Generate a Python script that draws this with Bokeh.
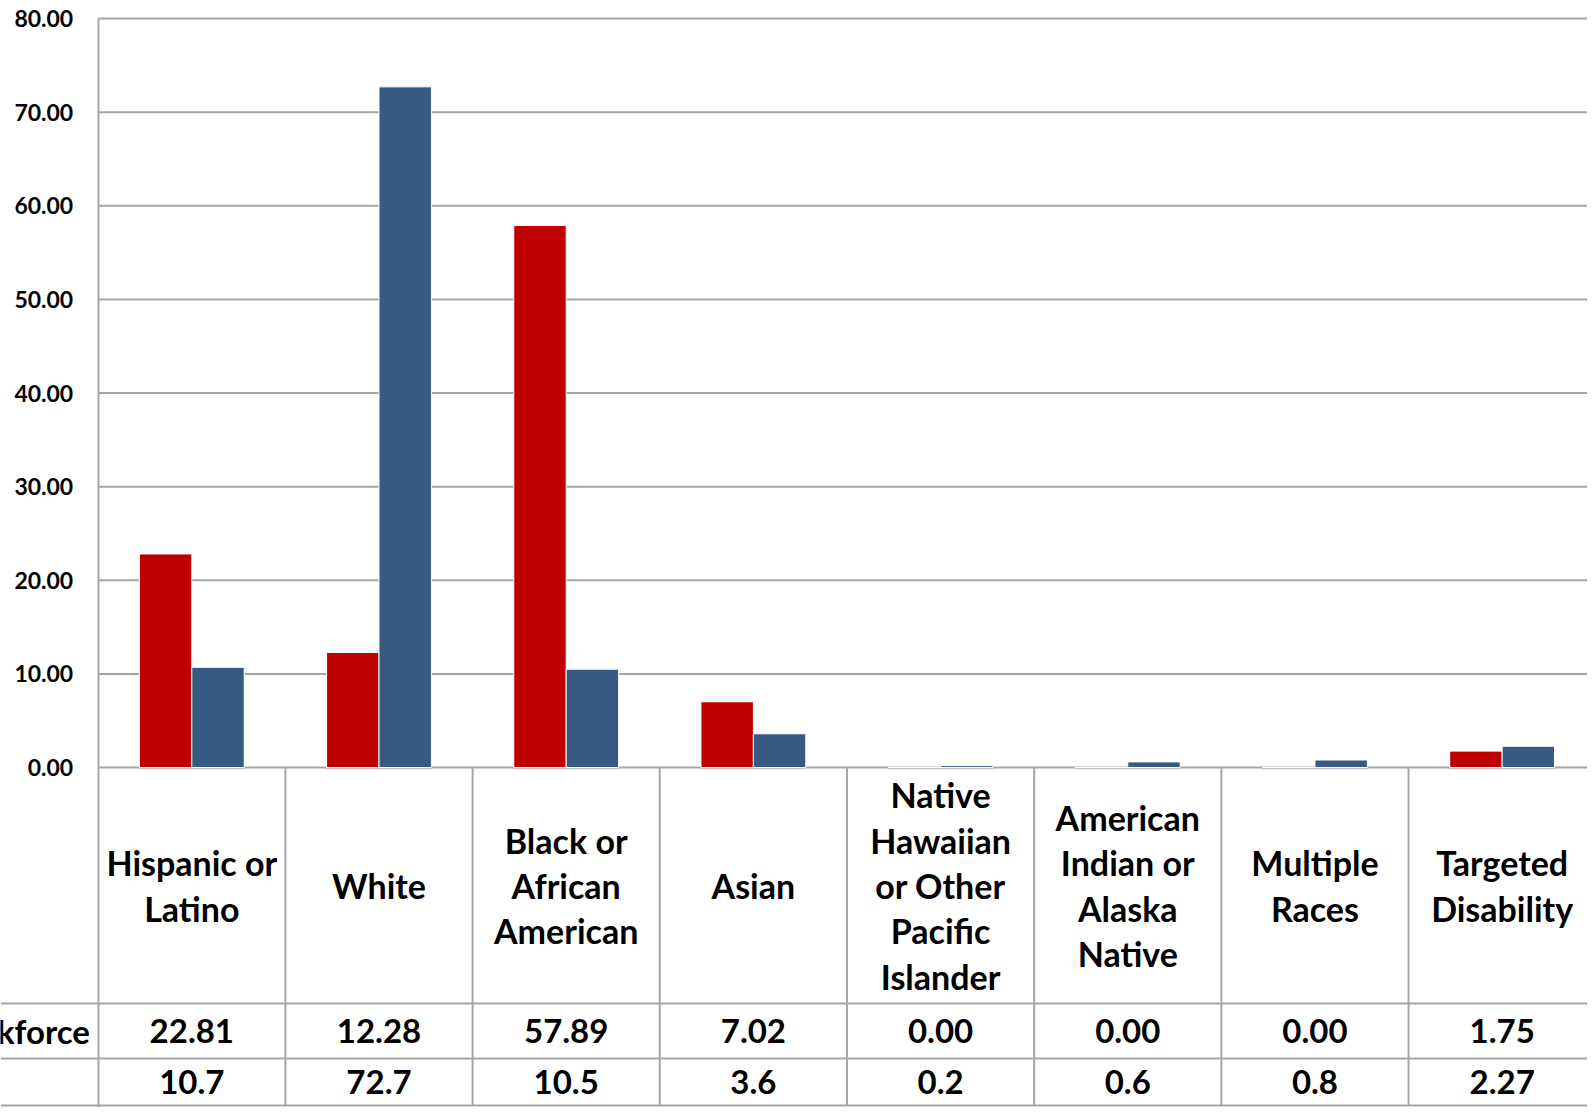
from bokeh.plotting import figure
from bokeh.models import FixedTicker, Range1d, ColumnDataSource, PrintfTickFormatter, LinearAxis
from bokeh.core.properties import value
from bokeh.embed import file_html
from bokeh.resources import INLINE

categories = ["Hispanic or\nLatino", "White", "Black or\nAfrican\nAmerican", "Asian",
              "Native\nHawaiian\nor Other\nPacific\nIslander", "American\nIndian or\nAlaska\nNative",
              "Multiple\nRaces", "Targeted\nDisability"]
workforce = [22.81, 12.28, 57.89, 7.02, 0.00, 0.00, 0.00, 1.75]
benchmark = [10.7, 72.7, 10.5, 3.6, 0.2, 0.6, 0.8, 2.27]
workforce_labels = ["22.81", "12.28", "57.89", "7.02", "0.00", "0.00", "0.00", "1.75"]
benchmark_labels = ["10.7", "72.7", "10.5", "3.6", "0.2", "0.6", "0.8", "2.27"]
row_label = "Workforce"
y_ticks = [0, 10, 20, 30, 40, 50, 60, 70, 80]

RED = "#C00000"
BLUE = "#375A82"
GRID = "#A6A6A6"
FONT = "Lato"

n = len(categories)
# table row boundaries (in value units below the zero line)
row_top = -25.21
row_mid = -31.08
row_bot = -36.10
x_left = -0.522
y_bottom = -36.315
y_top = 81.923

p = figure(width=1587, height=1107, output_backend="svg", toolbar_location=None,
           x_range=Range1d(x_left, 7.956), y_range=Range1d(y_bottom, y_top),
           x_axis_location=None, y_axis_location=None,
           min_border_left=0, min_border_right=0, min_border_top=0, min_border_bottom=0)
p.outline_line_color = None
p.xgrid.grid_line_color = None
p.ygrid.grid_line_color = None

yaxis = LinearAxis(fixed_location=0, ticker=FixedTicker(ticks=y_ticks),
                   formatter=PrintfTickFormatter(format="%.2f"), bounds=(y_bottom, 80))
yaxis.axis_line_color = GRID
yaxis.axis_line_width = 2
yaxis.major_tick_out = 0
yaxis.major_tick_in = 0
yaxis.minor_tick_out = 0
yaxis.minor_tick_in = 0
yaxis.major_label_standoff = 25
yaxis.major_label_text_font = FONT
yaxis.major_label_text_font_style = "bold"
yaxis.major_label_text_font_size = "23px"
yaxis.major_label_text_color = "black"
p.add_layout(yaxis, "left")

# horizontal grid lines from the value axis across the plot
p.segment(x0=[0] * len(y_ticks), y0=y_ticks, x1=[n] * len(y_ticks), y1=y_ticks,
          line_color=GRID, line_width=2)

xs = [i + 0.5 for i in range(n)]
src = ColumnDataSource(dict(x=xs, xr=[x - 0.14 for x in xs], xb=[x + 0.14 for x in xs],
                            wf=workforce, bm=benchmark, cat=categories,
                            wl=workforce_labels, bl=benchmark_labels))

# subtle shadow
p.vbar(x="xr", top="wf", width=0.285, bottom=-0.25, source=src, fill_color="#000000",
       fill_alpha=0.06, line_color=None)
p.vbar(x="xb", top="bm", width=0.285, bottom=-0.25, source=src, fill_color="#000000",
       fill_alpha=0.06, line_color=None)
p.vbar(x="xr", top="wf", width=0.28, source=src, fill_color=RED, line_color="white", line_width=1)
p.vbar(x="xb", top="bm", width=0.28, source=src, fill_color=BLUE, line_color="white", line_width=1)

# data table lines
p.segment(x0=list(range(1, n)), y0=[0] * (n - 1), x1=list(range(1, n)), y1=[row_bot] * (n - 1),
          line_color=GRID, line_width=2)
p.segment(x0=[x_left] * 3, y0=[row_top, row_mid, row_bot], x1=[n] * 3, y1=[row_top, row_mid, row_bot],
          line_color=GRID, line_width=2)

p.text(x="x", y=row_top / 2, text="cat", source=src, text_font=value(FONT), text_font_style="bold",
       text_font_size="34px", text_align="center", text_baseline="middle", text_line_height=1.104,
       text_color="black")
p.text(x="x", y=(row_top + row_mid) / 2, text="wl", source=src, text_font=value(FONT),
       text_font_style="bold", text_font_size="33px", text_align="center", text_baseline="middle",
       text_color="black")
p.text(x="x", y=(row_mid + row_bot) / 2, text="bl", source=src, text_font=value(FONT),
       text_font_style="bold", text_font_size="33px", text_align="center", text_baseline="middle",
       text_color="black")
p.text(x=[-0.044], y=[(row_top + row_mid) / 2], text=[row_label], text_font=value(FONT),
       text_font_style="bold", text_font_size="33px", text_align="right", text_baseline="middle",
       text_color="black")

open("out.html", "w").write(file_html(p, INLINE))
